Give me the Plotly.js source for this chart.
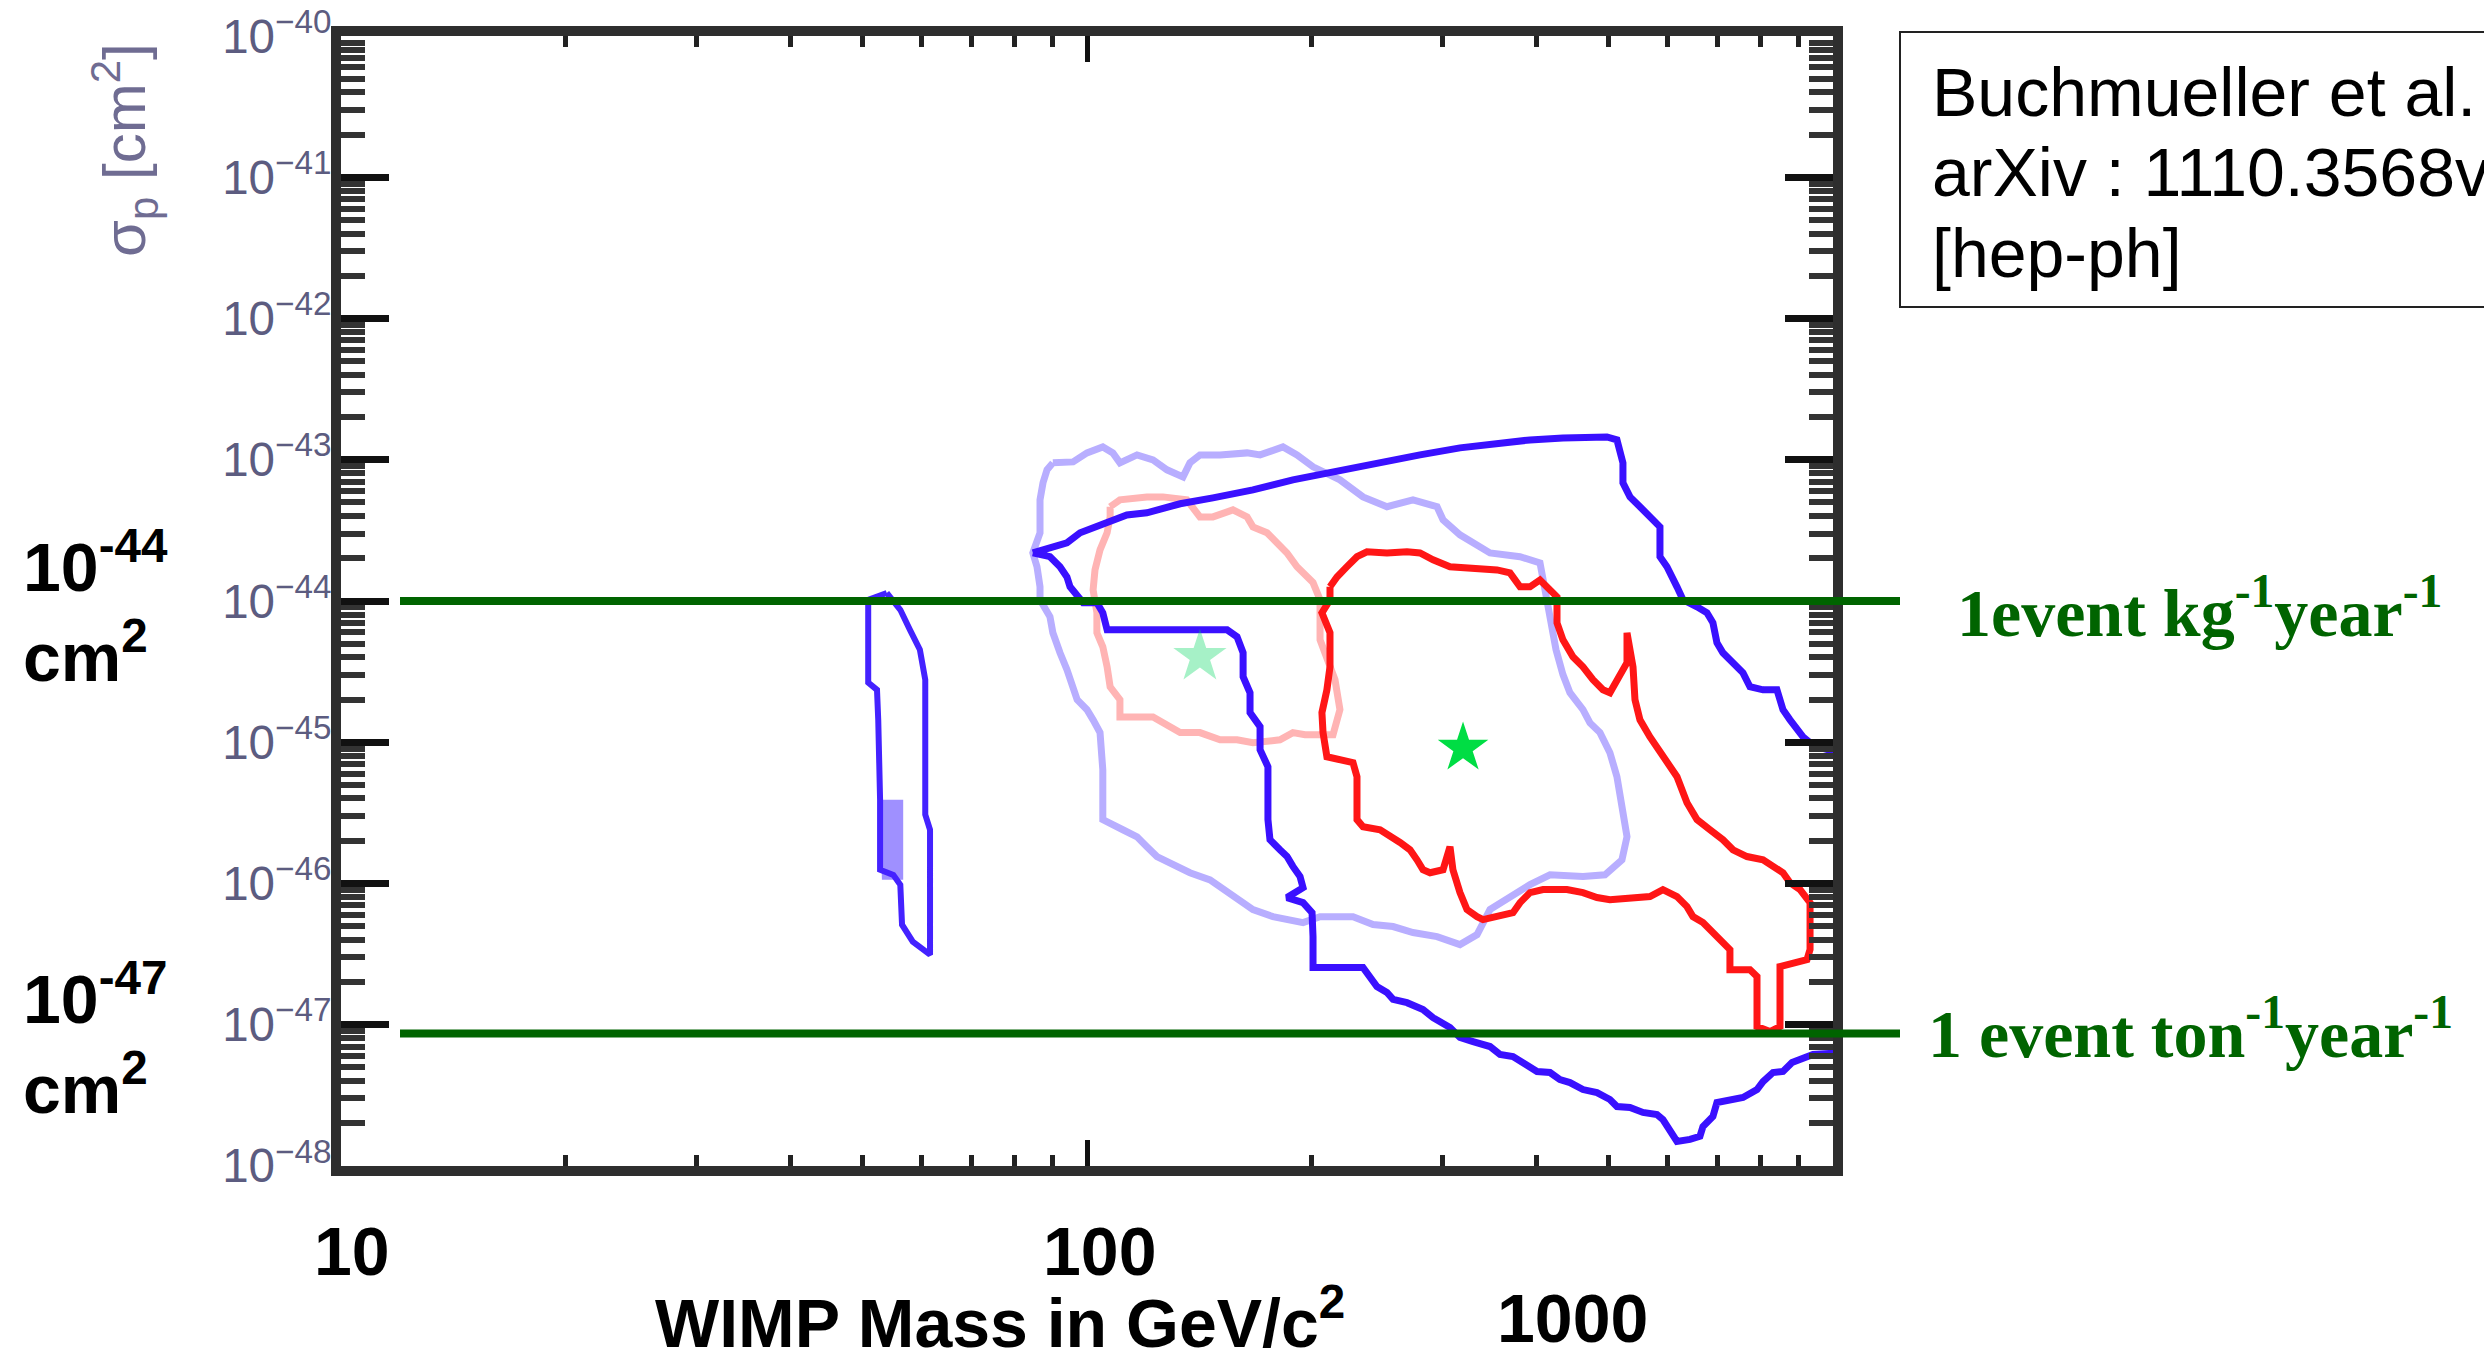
<!DOCTYPE html>
<html><head><meta charset="utf-8">
<script src="https://cdn.plot.ly/plotly-3.0.1.min.js"></script>
<style>html,body{margin:0;padding:0;background:#fff;}#chart{width:2484px;height:1362px;}</style>
</head><body><div id="chart"></div>
<script>
// ---------------- data (WIMP mass in GeV/c^2, cross-section in cm^2) ----------------
// thin blue island near 50-60 GeV
const islandMass  = [53.9, 50.9, 50.9, 52.3, 52.5, 52.8, 52.8, 55.0, 56.2, 56.5, 58.4, 61.6, 61.6, 60.7, 60.7, 59.7, 57.9, 56.2, 53.9];
const islandSigma = [1.14e-44, 1.02e-44, 2.64e-45, 2.35e-45, 1.44e-45, 3.92e-46, 1.25e-46, 1.15e-46, 9.8e-47, 5.1e-47, 3.87e-47, 3.13e-47, 2.40e-46, 3.07e-46, 2.77e-45, 4.52e-45, 6.25e-45, 8.67e-45, 1.14e-44];
const islandCoreMass  = [52.8, 56.7, 56.7, 53.1, 52.8];
const islandCoreSigma = [3.92e-46, 3.92e-46, 1.06e-46, 1.06e-46, 3.92e-46];

// large dark-blue contour
const blueMass = [84.6, 94.0, 97.9, 103.1, 108.3, 113.1, 120.3, 128.0, 133.3, 147.5,
  166.9, 188.8, 213.7, 241.8, 279.5, 316.2, 361.1, 392.5, 434.5, 497.7,
  513.3, 522.9, 522.9, 534.4, 551.1, 568.4, 586.2, 586.2, 599.0, 617.8,
  629.3, 657.2, 677.7, 690.3, 698.9, 711.9, 734.4, 757.4, 773.9, 805.7,
  841.1, 857.0, 875.8, 894.8, 911.6, 931.6, 951.9, 1100, 1100, 940.2,
  881.2, 857.0, 830.9, 805.7, 790.9, 757.4, 727.5, 698.9, 690.3, 669.4,
  663.2, 643.1, 617.8, 604.6, 591.6, 580.8, 556.2, 534.4, 513.3, 502.3,
  482.6, 462.2, 444.0, 430.5, 417.5, 401.1, 388.9, 372.4, 357.8, 346.9,
  329.2, 316.2, 306.6, 297.3, 291.0, 282.1, 268.5, 257.2, 252.4, 244.7,
  239.5, 234.4, 216.3, 200.9, 200.9, 200.3, 194.8, 185.4, 194.8, 193.0,
  188.8, 185.4, 181.4, 175.9, 174.8, 174.8, 174.8, 170.6, 170.6, 165.4,
  165.4, 161.9, 161.9, 158.9, 154.1, 138.7, 122.6, 106.4, 105.0, 103.1,
  98.8, 94.9, 94.0, 92.0, 89.2, 84.6];
const blueSigma = [2.19e-44, 2.58e-44, 3.04e-44, 3.35e-44, 3.76e-44, 4.07e-44, 4.21e-44, 4.65e-44, 4.88e-44, 5.37e-44,
  6.12e-44, 7.21e-44, 8.21e-44, 9.51e-44, 1.083e-43, 1.214e-43, 1.318e-43, 1.383e-43, 1.429e-43, 1.452e-43,
  1.383e-43, 9.51e-44, 6.87e-44, 5.46e-44, 4.65e-44, 3.94e-44, 3.35e-44, 2.06e-44, 1.75e-44, 1.26e-44,
  1.02e-44, 9.10e-45, 8.25e-45, 7.01e-45, 5.06e-45, 4.30e-45, 3.66e-45, 3.10e-45, 2.47e-45, 2.35e-45,
  2.35e-45, 1.70e-45, 1.44e-45, 1.23e-45, 1.09e-45, 9.91e-46, 9.29e-46, 7.5e-46, 6.5e-48, 6.14e-48,
  5.39e-48, 4.66e-48, 4.58e-48, 3.95e-48, 3.47e-48, 3.05e-48, 2.95e-48, 2.81e-48, 2.24e-48, 1.90e-48,
  1.62e-48, 1.54e-48, 1.49e-48, 1.81e-48, 2.13e-48, 2.31e-48, 2.39e-48, 2.59e-48, 2.63e-48, 2.95e-48,
  3.30e-48, 3.47e-48, 3.89e-48, 4.08e-48, 4.58e-48, 4.66e-48, 5.22e-48, 5.94e-48, 6.14e-48, 7.00e-48,
  7.59e-48, 8.11e-48, 9.53e-48, 1.035e-47, 1.12e-47, 1.28e-47, 1.43e-47, 1.51e-47, 1.69e-47, 1.86e-47,
  2.19e-47, 2.54e-47, 2.54e-47, 2.54e-47, 4.20e-47, 6.21e-47, 7.31e-47, 7.94e-47, 9.33e-47, 1.12e-46,
  1.32e-46, 1.55e-46, 1.73e-46, 2.04e-46, 2.83e-46, 5.70e-46, 6.71e-46, 8.85e-46, 1.29e-45, 1.62e-45,
  2.24e-45, 2.91e-45, 4.30e-45, 5.58e-45, 6.25e-45, 6.25e-45, 6.25e-45, 6.25e-45, 8.25e-45, 9.71e-45,
  9.71e-45, 1.26e-44, 1.48e-44, 1.75e-44, 2.06e-44, 2.19e-44];

// faint blue contour
const paleBlueMass = [90.0, 95.8, 100, 105.0, 108.3, 110.7, 116.7, 122.6, 128.0, 134.5,
  137.4, 141.7, 150.8, 163.9, 170.6, 183.1, 191.2, 200.9, 218.3, 234.4,
  252.4, 273.5, 294.6, 300.1, 316.2, 331.2, 346.9, 380.6, 404.8, 411.1,
  417.5, 425.3, 434.5, 444.0, 462.2, 472.3, 487.1, 502.3, 513.3, 521.3,
  529.5, 521.3, 494.7, 462.2, 417.5, 392.5, 369.0, 346.9, 333.3, 316.2,
  294.6, 273.5, 257.2, 241.8, 227.3, 205.3, 194.8, 183.1, 177.5, 166.9,
  156.9, 146.2, 137.4, 129.2, 124.1, 120.3, 116.7, 111.7, 107.4, 105.0,
  105.0, 104.1, 101.9, 100, 97.0, 95.8, 94.0, 92.0, 90.0, 89.2,
  86.5, 86.5, 85.7, 84.6, 86.5, 86.5, 86.5, 87.3, 88.4, 90.0];
const paleBlueSigma = [9.51e-44, 9.66e-44, 1.119e-43, 1.233e-43, 1.119e-43, 9.51e-44, 1.083e-43, 9.98e-44, 8.49e-44, 7.57e-44,
  9.51e-44, 1.083e-43, 1.083e-43, 1.119e-43, 1.083e-43, 1.233e-43, 1.083e-43, 8.91e-44, 7.21e-44, 5.46e-44,
  4.65e-44, 5.20e-44, 4.65e-44, 3.76e-44, 2.94e-44, 2.50e-44, 2.19e-44, 2.06e-44, 1.86e-44, 1.20e-44,
  7.36e-45, 4.52e-45, 3.01e-45, 2.24e-45, 1.70e-45, 1.37e-45, 1.17e-45, 8.43e-46, 5.70e-46, 3.73e-46,
  2.14e-46, 1.47e-46, 1.15e-46, 1.12e-46, 1.15e-46, 9.8e-47, 8.07e-47, 6.53e-47, 4.34e-47, 3.69e-47,
  4.20e-47, 4.49e-47, 4.95e-47, 5.11e-47, 5.82e-47, 5.82e-47, 5.28e-47, 5.54e-47, 5.82e-47, 6.53e-47,
  8.07e-47, 1.06e-46, 1.19e-46, 1.40e-46, 1.55e-46, 1.82e-46, 2.14e-46, 2.40e-46, 2.69e-46, 2.83e-46,
  6.38e-46, 1.17e-45, 1.44e-45, 1.70e-45, 2.00e-45, 2.47e-45, 3.26e-45, 4.30e-45, 5.96e-45, 7.73e-45,
  1.02e-44, 1.26e-44, 1.75e-44, 2.19e-44, 3.04e-44, 3.94e-44, 5.20e-44, 6.87e-44, 8.49e-44, 9.51e-44];

// solid red contour
const redMass = [211.7, 216.3, 223.1, 230.1, 237.3, 252.4, 268.5, 279.5, 291.0, 306.6,
  354.5, 369.0, 380.6, 392.5, 404.8, 413.6, 426.6, 426.6, 434.5, 448.1,
  462.2, 476.7, 491.6, 502.3, 513.3, 529.5, 529.5, 539.4, 542.7, 551.1,
  568.4, 586.2, 604.6, 617.8, 637.2, 657.2, 684.0, 711.9, 734.4, 766.8,
  805.7, 830.9, 857.0, 875.8, 903.3, 931.6, 931.6, 922.9, 883.9, 849.1,
  849.1, 823.2, 790.9, 790.9, 773.9, 727.5, 727.5, 711.9, 690.3, 669.4,
  649.0, 637.2, 617.8, 591.6, 568.4, 534.4, 502.3, 482.6, 462.2, 439.9,
  408.6, 392.5, 380.6, 372.4, 354.5, 339.5, 333.3, 323.1, 316.2, 309.4,
  306.6, 300.1, 288.3, 282.1, 276.9, 271.0, 262.8, 254.8, 247.1, 234.4,
  230.1, 230.1, 227.3, 209.7, 207.2, 206.5, 209.7, 211.7, 211.7, 206.5,
  211.7, 211.7];
const redSigma = [1.26e-44, 1.48e-44, 1.75e-44, 2.06e-44, 2.23e-44, 2.19e-44, 2.23e-44, 2.19e-44, 1.96e-44, 1.75e-44,
  1.66e-44, 1.58e-44, 1.26e-44, 1.26e-44, 1.41e-44, 1.26e-44, 1.07e-44, 7.01e-45, 5.31e-45, 4.03e-45,
  3.42e-45, 2.77e-45, 2.35e-45, 2.24e-45, 2.77e-45, 3.66e-45, 5.96e-45, 3.42e-45, 2.00e-45, 1.44e-45,
  1.09e-45, 8.43e-46, 6.71e-46, 5.70e-46, 3.73e-46, 2.83e-46, 2.40e-46, 2.04e-46, 1.73e-46, 1.55e-46,
  1.47e-46, 1.32e-46, 1.19e-46, 1.01e-46, 9.04e-47, 7.31e-47, 3.40e-47, 2.89e-47, 2.75e-47, 2.58e-47,
  9.70e-48, 8.93e-48, 9.70e-48, 2.19e-47, 2.45e-47, 2.45e-47, 3.40e-47, 3.81e-47, 4.49e-47, 5.28e-47,
  5.82e-47, 6.85e-47, 8.07e-47, 9.04e-47, 8.07e-47, 7.94e-47, 7.68e-47, 7.94e-47, 8.61e-47, 9.04e-47,
  9.04e-47, 8.61e-47, 7.31e-47, 6.21e-47, 5.82e-47, 5.54e-47, 5.82e-47, 6.53e-47, 8.61e-47, 1.25e-46,
  1.82e-46, 1.25e-46, 1.19e-46, 1.25e-46, 1.47e-46, 1.73e-46, 1.95e-46, 2.14e-46, 2.40e-46, 2.52e-46,
  2.83e-46, 5.70e-46, 7.16e-46, 7.89e-46, 1.17e-45, 1.62e-45, 2.35e-45, 3.42e-45, 5.96e-45, 8.25e-45,
  1.02e-44, 1.26e-44];

// faint red contour
const paleRedMass = [107.4, 110.7, 120.3, 126.4, 136.1, 141.7, 147.5, 156.9, 163.9, 166.9,
  174.3, 179.7, 185.4, 191.2, 194.8, 200.9, 205.3, 205.3, 215.0, 218.3,
  213.7, 196.0, 188.8, 181.4, 166.9, 158.9, 150.8, 141.7, 133.3, 126.4,
  122.6, 114.2, 110.7, 110.7, 107.4, 106.4, 105.0, 103.1, 103.1, 101.9,
  102.5, 104.1, 106.4, 107.4, 107.4];
const paleRedSigma = [4.65e-44, 5.20e-44, 5.46e-44, 5.46e-44, 5.20e-44, 3.94e-44, 3.94e-44, 4.42e-44, 3.94e-44, 3.35e-44,
  3.04e-44, 2.58e-44, 2.19e-44, 1.75e-44, 1.58e-44, 1.35e-44, 1.02e-44, 5.31e-45, 2.77e-45, 1.70e-45,
  1.13e-45, 1.13e-45, 1.17e-45, 1.04e-45, 9.91e-46, 1.04e-45, 1.04e-45, 1.17e-45, 1.17e-45, 1.37e-45,
  1.51e-45, 1.51e-45, 1.51e-45, 2.00e-45, 2.47e-45, 3.42e-45, 4.74e-45, 5.96e-45, 8.25e-45, 1.20e-44,
  1.66e-44, 2.30e-44, 3.04e-44, 3.94e-44, 4.65e-44];

// best-fit points (stars)
const paleStarMass = [141.7];
const paleStarSigma = [4.03e-45];
const starMass = [319.2];
const starSigma = [9.1e-46];

// event-rate reference levels
const rateSigma = [1e-44, 8.65e-48];
const rateLabels = ['1event kg<sup>-1</sup>year<sup>-1</sup>', '1 event ton<sup>-1</sup>year<sup>-1</sup>'];

// text
const xTickTexts = ['10', '100', '1000'];
const xTitle = 'WIMP Mass in GeV/c<sup>2</sup>';
const leftLevelTexts = ['10<sup>-44</sup>', 'cm<sup>2</sup>', '10<sup>-47</sup>', 'cm<sup>2</sup>'];
const refLines = ['Buchmueller et al.', 'arXiv : 1110.3568v2', '[hep-ph]'];
const yTitle = '\u03c3<sub>p</sub> [cm<sup>2</sup>]';

// ---------------- layout helpers (pixel -> paper) ----------------
const W = 2484, H = 1362;
const M = {l: 341, r: 651, t: 36, b: 196};
const PW = W - M.l - M.r, PH = H - M.t - M.b;
const px = x => (x - M.l) / PW;
const py = y => (H - M.b - y) / PH;

const SANS = 'Liberation Sans, Arial, Helvetica, sans-serif';
const SERIF = 'Liberation Serif, Times New Roman, serif';
const GREEN = '#006400';

const line = (x, y, color, width) => ({x, y, type: 'scatter', mode: 'lines', line: {color, width}, hoverinfo: 'skip', showlegend: false});

const traces = [
  line(paleBlueMass, paleBlueSigma, '#b8aeff', 7),
  line(paleRedMass, paleRedSigma, '#ffb4b4', 7),
  {x: islandCoreMass, y: islandCoreSigma, type: 'scatter', mode: 'lines', fill: 'toself', fillcolor: 'rgba(95,70,255,0.6)', line: {width: 0}, hoverinfo: 'skip', showlegend: false},
  line(islandMass, islandSigma, '#4422ff', 6),
  line(blueMass, blueSigma, '#3a10ff', 7),
  line(redMass, redSigma, '#ff1616', 7),
  {x: paleStarMass, y: paleStarSigma, type: 'scatter', mode: 'markers', marker: {symbol: 'star', size: 40, color: 'rgba(0,215,95,0.35)', line: {width: 0}}, hoverinfo: 'skip', showlegend: false},
  {x: starMass, y: starSigma, type: 'scatter', mode: 'markers', marker: {symbol: 'star', size: 38, color: '#00dd44', line: {width: 0}}, hoverinfo: 'skip', showlegend: false}
];

const frame = {showline: true, linecolor: '#2e2e2e', linewidth: 10, mirror: 'allticks', ticks: 'inside', tickcolor: '#111', showgrid: false, zeroline: false};

const annotations = [];
const ann = (text, x, y, opts) => annotations.push(Object.assign({text, x, y, xref: 'paper', yref: 'paper', showarrow: false}, opts));
const bigBold = {family: SANS, size: 68, color: '#000', weight: 'bold'};

ann(leftLevelTexts[0], px(21), py(562), {xanchor: 'left', yanchor: 'middle', font: bigBold});
ann(leftLevelTexts[1], px(21), py(652), {xanchor: 'left', yanchor: 'middle', font: bigBold});
ann(leftLevelTexts[2], px(21), py(994), {xanchor: 'left', yanchor: 'middle', font: bigBold});
ann(leftLevelTexts[3], px(21), py(1084), {xanchor: 'left', yanchor: 'middle', font: bigBold});
ann(xTickTexts[0], px(352), py(1251), {xanchor: 'center', yanchor: 'middle', font: bigBold});
ann(xTickTexts[1], px(1099), py(1251), {xanchor: 'center', yanchor: 'middle', font: bigBold});
ann(xTickTexts[2], px(1572), py(1318), {xanchor: 'center', yanchor: 'middle', font: bigBold});
ann(xTitle, px(1000), py(1318), {xanchor: 'center', yanchor: 'middle', font: bigBold});
ann(yTitle, px(125), py(150), {xanchor: 'center', yanchor: 'middle', textangle: -90, font: {family: SANS, size: 60, color: '#6f6c92'}});
ann(rateLabels[0], px(1955), py(608), {xanchor: 'left', yanchor: 'middle', font: {family: SERIF, size: 68, color: GREEN, weight: 'bold'}});
ann(rateLabels[1], px(1926), py(1029), {xanchor: 'left', yanchor: 'middle', font: {family: SERIF, size: 68, color: GREEN, weight: 'bold'}});
const refFont = {family: SANS, size: 68, color: '#000'};
ann(refLines[0], px(1930), py(92), {xanchor: 'left', yanchor: 'middle', font: refFont});
ann(refLines[1], px(1930), py(172), {xanchor: 'left', yanchor: 'middle', font: refFont});
ann(refLines[2], px(1930), py(253), {xanchor: 'left', yanchor: 'middle', font: refFont});

const shapes = rateSigma.map(s => ({type: 'line', xref: 'paper', yref: 'y', x0: px(400), x1: px(1900), y0: s, y1: s, line: {color: GREEN, width: 8}}));
shapes.push({type: 'rect', xref: 'paper', yref: 'paper', x0: px(1900), x1: px(2700), y0: py(307), y1: py(32), line: {color: '#222', width: 2}, fillcolor: 'rgba(0,0,0,0)'});

const layout = {
  width: W, height: H,
  margin: M,
  paper_bgcolor: '#fff', plot_bgcolor: '#fff',
  showlegend: false,
  xaxis: Object.assign({}, frame, {type: 'log', range: [1, 3], dtick: 1, ticklen: 26, tickwidth: 5, showticklabels: false,
    minor: {ticks: 'inside', ticklen: 11, tickwidth: 5, tickcolor: '#222', dtick: 'D1', showgrid: false}}),
  yaxis: Object.assign({}, frame, {type: 'log', range: [-48.001, -39.999], dtick: 1, ticklen: 48, tickwidth: 7,
    exponentformat: 'power', showexponent: 'all', ticklabelstandoff: -8,
    tickfont: {family: SANS, size: 38, color: '#5c5c80'},
    minor: {ticks: 'inside', ticklen: 24, tickwidth: 6, tickcolor: '#333', dtick: 'D1', showgrid: false}}),
  annotations, shapes
};

Plotly.newPlot('chart', traces, layout, {staticPlot: true, displayModeBar: false});
</script>
</body></html>
